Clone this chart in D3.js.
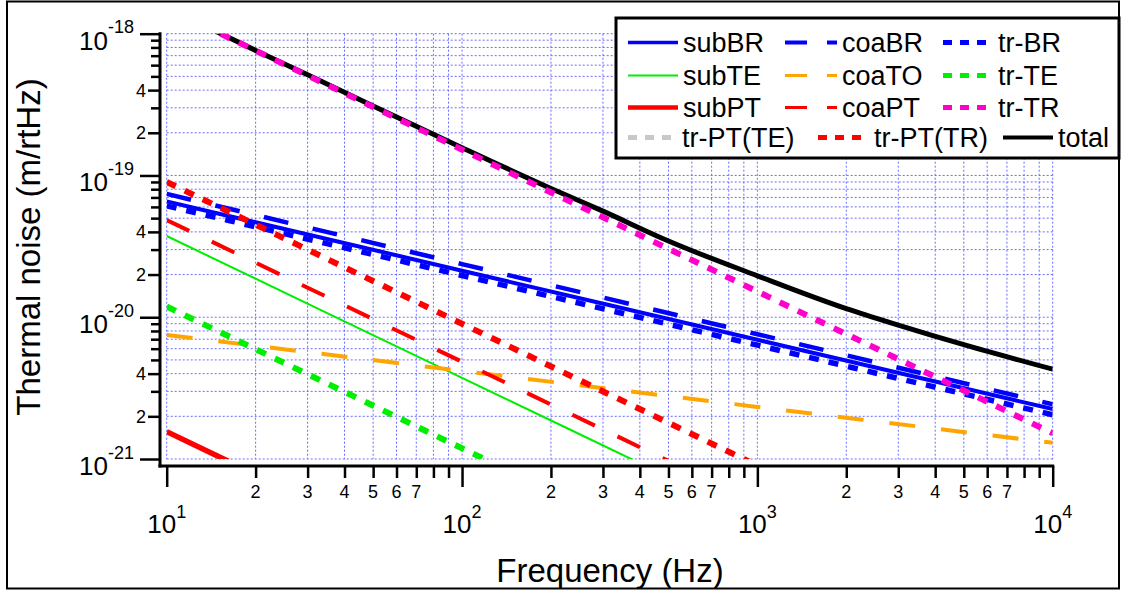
<!DOCTYPE html>
<html lang="en">
<head>
<meta charset="UTF-8">
<title>Thermal noise</title>
<script src="https://d3js.org/d3.v7.min.js"></script>
<style>
    body { margin: 0; background: #fff; }
    svg { font-family: "Liberation Sans", Arial, sans-serif; }
    .grid line { stroke: #6b6bff; stroke-width: 1; stroke-dasharray: 2,2; }
    .axis path { display: none; }
    .axis line { stroke: #000; stroke-width: 2.5; }
    .trace { fill: none; }
</style>
</head>
<body>
<div id="chart"></div>
<script>
// frequencies (Hz) where the straight power-law traces were read
const freqs = [10, 100, 1000, 10000];

// substrate terms
const subBR = [6.56e-20, 2.13e-20, 6.93e-21, 2.25e-21];
const subTE = [3.74e-20, 3.74e-21, 3.74e-22];
const subPT = [1.56e-21, 1.56e-22];
// coating terms
const coaBR = [7.41e-20, 2.37e-20, 7.59e-21, 2.43e-21];
const coaTO = [7.5e-21, 4.18e-21, 2.33e-21, 1.30e-21];
const coaPT = [4.85e-20, 4.85e-21, 4.85e-22];
// tr terms
const trBR = [6.1e-20, 1.97e-20, 6.35e-21, 2.05e-21];
const trTE = [1.19e-20, 1.19e-21, 1.19e-22];
const trTR = [1.52e-18, 1.52e-19, 1.52e-20, 1.52e-21];
const trPTTE = [];   // below the plotted range, only in the legend
const trPTTR = [9.0e-20, 9.0e-21, 9.0e-22];

// the total bends, so it was read at more points
const totalFreqs = [10, 20, 30, 50, 100, 200, 300, 500, 1000, 2000, 3000, 5000, 10000];
const total = [1.53e-18, 7.62e-19, 5.13e-19, 3.09e-19, 1.57e-19, 8.1e-20, 5.6e-20,
               3.45e-20, 1.96e-20, 1.15e-20, 8.8e-21, 6.4e-21, 4.3e-21];

const xDecades = [10, 100, 1000, 10000];
const yDecades = [1e-21, 1e-20, 1e-19, 1e-18];
const xMinorLabels = [2, 3, 4, 5, 6, 7];
const yMinorLabels = [2, 4];

const W = 1125, H = 594;
const plot = { left: 166.7, right: 1052.7, top: 33.7, bottom: 459 };

const x = d3.scaleLog().domain([10, 1e4]).range([plot.left, plot.right]);
const y = d3.scaleLog().domain([1e-21, 1e-18]).range([plot.bottom, plot.top]);

const svg = d3.select("#chart").append("svg")
    .attr("width", W).attr("height", H);

// outer frame
svg.append("rect")
    .attr("x", 7).attr("y", 1.5).attr("width", 1112).attr("height", 587)
    .attr("fill", "#fff").attr("stroke", "#000").attr("stroke-width", 2);

// minor values per decade
function minors(decades) {
    const out = [];
    decades.slice(0, -1).forEach(d => {
        for (let k = 2; k <= 9; k++) out.push(d * k);
    });
    return out;
}
const xMinor = minors(xDecades);
const yMinor = minors(yDecades);

// dotted grid
const grid = svg.append("g").attr("class", "grid");
grid.selectAll(".gx").data(xDecades.concat(xMinor)).enter().append("line")
    .attr("x1", d => x(d)).attr("x2", d => x(d))
    .attr("y1", plot.top).attr("y2", plot.bottom);
grid.selectAll(".gy").data(yDecades.concat(yMinor)).enter().append("line")
    .attr("x1", plot.left).attr("x2", plot.right)
    .attr("y1", d => y(d)).attr("y2", d => y(d));

// series styles
const series = [
    { name: "total", f: totalFreqs, v: total, color: "#000", w: 5, dash: null, lw: 4, ldash: null },
    { name: "subBR", f: freqs, v: subBR, color: "#0000ff", w: 4, dash: null, lw: 3.5, ldash: null },
    { name: "subTE", f: freqs, v: subTE, color: "#00ee00", w: 2, dash: null, lw: 2, ldash: null },
    { name: "subPT", f: freqs, v: subPT, color: "#ff0000", w: 5.5, dash: null, lw: 4.5, ldash: null },
    { name: "coaBR", f: freqs, v: coaBR, color: "#0000ff", w: 4.5, dash: "25,25", lw: 4, ldash: "22,20" },
    { name: "coaTO", f: freqs, v: coaTO, color: "#ffa500", w: 4, dash: "26,26", lw: 3, ldash: "22,20" },
    { name: "coaPT", f: freqs, v: coaPT, color: "#ff0000", w: 4, dash: "25,25", lw: 3, ldash: "22,20" },
    { name: "tr-BR", f: freqs, v: trBR, color: "#0000ff", w: 5.5, dash: "10,10", lw: 5, ldash: "9,8" },
    { name: "tr-TE", f: freqs, v: trTE, color: "#00ee00", w: 6, dash: "10,10", lw: 5, ldash: "9,8" },
    { name: "tr-TR", f: freqs, v: trTR, color: "#ff00cc", w: 6, dash: "10,10", lw: 5, ldash: "9,8" },
    { name: "tr-PT(TE)", f: freqs, v: trPTTE, color: "#c8c8c8", w: 6, dash: "10,10", lw: 5, ldash: "9,8" },
    { name: "tr-PT(TR)", f: freqs, v: trPTTR, color: "#ff0000", w: 6, dash: "10,10", lw: 5, ldash: "9,8" }
];

svg.append("clipPath").attr("id", "clip").append("rect")
    .attr("x", plot.left).attr("y", plot.top)
    .attr("width", plot.right - plot.left).attr("height", plot.bottom - plot.top);

const line = d3.line()
    .x(d => x(d[0]))
    .y(d => y(d[1]))
    .curve(d3.curveMonotoneX);

const traces = svg.append("g").attr("clip-path", "url(#clip)");
series.forEach(s => {
    if (!s.v.length) return;
    const pts = s.v.map((v, i) => [s.f[i], v]);
    traces.append("path")
        .attr("class", "trace")
        .attr("d", line(pts))
        .attr("stroke", s.color)
        .attr("stroke-width", s.w)
        .attr("stroke-dasharray", s.dash);
});

// axes (ticks only; axis lines drawn separately, offset like the original)
const xAxisY = 466, yAxisX = 160;
svg.append("g").attr("class", "axis")
    .attr("transform", `translate(0,${xAxisY})`)
    .call(d3.axisBottom(x).tickValues(xDecades).tickSize(21).tickFormat(""));
svg.append("g").attr("class", "axis")
    .attr("transform", `translate(0,${xAxisY})`)
    .call(d3.axisBottom(x).tickValues(xMinor).tickSize(12).tickFormat(""));
svg.append("g").attr("class", "axis")
    .attr("transform", `translate(${yAxisX},0)`)
    .call(d3.axisLeft(y).tickValues(yDecades).tickSize(20).tickFormat(""));
svg.append("g").attr("class", "axis")
    .attr("transform", `translate(${yAxisX},0)`)
    .call(d3.axisLeft(y).tickValues(yMinor.filter(v => !yMinorLabels.includes(Math.round(v / Math.pow(10, Math.floor(Math.log10(v) + 1e-9))))))
        .tickSize(9).tickFormat(""));
svg.append("g").attr("class", "axis")
    .attr("transform", `translate(${yAxisX},0)`)
    .call(d3.axisLeft(y).tickValues(yMinor.filter(v => yMinorLabels.includes(Math.round(v / Math.pow(10, Math.floor(Math.log10(v) + 1e-9))))))
        .tickSize(12).tickFormat(""));

svg.append("line").attr("x1", yAxisX).attr("x2", yAxisX)
    .attr("y1", plot.top - 1.5).attr("y2", xAxisY + 1.5)
    .attr("stroke", "#000").attr("stroke-width", 3);
svg.append("line").attr("x1", yAxisX - 1.5).attr("x2", plot.right + 1.5)
    .attr("y1", xAxisY).attr("y2", xAxisY)
    .attr("stroke", "#000").attr("stroke-width", 3);

// tick labels
const mantissa = v => Math.round(v / Math.pow(10, Math.floor(Math.log10(v) + 1e-9)));
const exponent = v => Math.round(Math.log10(v));

const xl = svg.append("g").attr("fill", "#000");
xl.selectAll(".xmaj").data(xDecades).enter().append("text")
    .attr("x", d => x(d)).attr("y", 533)
    .attr("text-anchor", "middle")
    .each(function(d) {
        const t = d3.select(this);
        t.append("tspan").attr("font-size", 26).text("10");
        t.append("tspan").attr("font-size", 18).attr("dy", -15).text(exponent(d));
    });
xl.selectAll(".xmin").data(xMinor.filter(v => xMinorLabels.includes(mantissa(v)))).enter().append("text")
    .attr("x", d => x(d)).attr("y", 498)
    .attr("text-anchor", "middle").attr("font-size", 18)
    .text(d => mantissa(d));

const yl = svg.append("g").attr("fill", "#000");
yl.selectAll(".ymaj").data(yDecades).enter().append("text")
    .attr("x", 134).attr("y", d => y(d) + 16)
    .attr("text-anchor", "end")
    .each(function(d) {
        const t = d3.select(this);
        t.append("tspan").attr("font-size", 26).text("10");
        t.append("tspan").attr("font-size", 18).attr("dy", -16.5).text(exponent(d));
    });
yl.selectAll(".ymin").data(yMinor.filter(v => yMinorLabels.includes(mantissa(v)))).enter().append("text")
    .attr("x", 146).attr("y", d => y(d) + 6.5)
    .attr("text-anchor", "end").attr("font-size", 18)
    .text(d => mantissa(d));

// axis titles
svg.append("text")
    .attr("transform", "translate(40,247) rotate(-90)")
    .attr("text-anchor", "middle").attr("font-size", 33)
    .text("Thermal noise (m/rtHz)");
svg.append("text")
    .attr("x", 610).attr("y", 582)
    .attr("text-anchor", "middle").attr("font-size", 33)
    .text("Frequency (Hz)");

// legend: 3 columns, the last row uses its own tab stops
const legendRows = [42.5, 75.5, 107.5, 137.5];
const legendCols = [
    [{ x1: 628, x2: 678, tx: 683 }, { x1: 785, x2: 837, tx: 842 }, { x1: 943, x2: 989, tx: 998 }],
    [{ x1: 628, x2: 678, tx: 683 }, { x1: 785, x2: 837, tx: 842 }, { x1: 943, x2: 989, tx: 998 }],
    [{ x1: 628, x2: 678, tx: 683 }, { x1: 785, x2: 837, tx: 842 }, { x1: 943, x2: 989, tx: 998 }],
    [{ x1: 628, x2: 672, tx: 682 }, { x1: 818, x2: 862, tx: 874 }, { x1: 1003, x2: 1053, tx: 1058 }]
];
const legendOrder = ["subBR", "coaBR", "tr-BR", "subTE", "coaTO", "tr-TE",
                     "subPT", "coaPT", "tr-TR", "tr-PT(TE)", "tr-PT(TR)", "total"];

const lg = svg.append("g");
lg.append("rect")
    .attr("x", 616).attr("y", 18).attr("width", 503).attr("height", 140)
    .attr("fill", "#fff").attr("stroke", "#000").attr("stroke-width", 3);
legendOrder.forEach((name, i) => {
    const s = series.find(d => d.name === name);
    const r = Math.floor(i / 3), c = i % 3;
    const pos = legendCols[r][c], yy = legendRows[r];
    lg.append("line")
        .attr("x1", pos.x1).attr("x2", pos.x2).attr("y1", yy).attr("y2", yy)
        .attr("stroke", s.color).attr("stroke-width", s.lw)
        .attr("stroke-dasharray", s.ldash);
    lg.append("text")
        .attr("x", pos.tx).attr("y", yy + 9)
        .attr("font-size", 27)
        .text(name);
});
</script>
</body>
</html>
